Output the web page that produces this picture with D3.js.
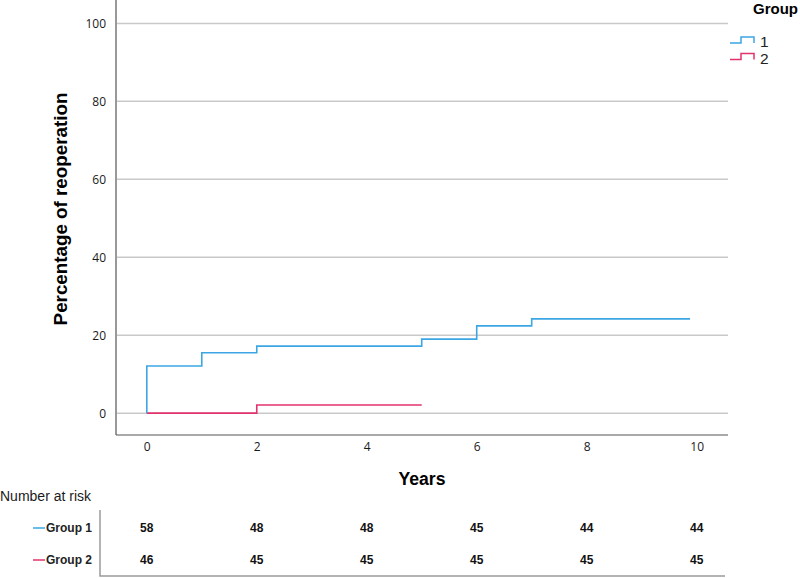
<!DOCTYPE html>
<html>
  <head>
    <meta charset="utf-8">
    <title>Reoperation by group</title>
    <script src="https://cdn.jsdelivr.net/npm/d3@7"></script>
    <style>
      body { margin: 0; background: #fff; }
      svg { font-family: "Liberation Sans", Arial, sans-serif; }
      .grid line { stroke: #c9c9c9; stroke-width: 1.5; }
      .axis text { font-family: "Open Sans", "Liberation Sans", sans-serif; font-size: 12px; fill: #1a1a1a; }
      .bold { font-weight: bold; }
    </style>
  </head>
  <body>
    <svg id="chart" width="800" height="578"></svg>

    <script>
      // data
      groups = ["1", "2"];
      colours = ["#3ba6e3", "#e3336c"];
      group1Times = [0, 0, 1, 2, 5, 6, 7, 9.88];
      group1Values = [0, 12.1, 15.5, 17.2, 19.0, 22.4, 24.2, 24.2];
      group2Times = [0, 2, 5];
      group2Values = [0, 2.1, 2.1];
      yTicks = [0, 20, 40, 60, 80, 100];
      xTicks = [0, 2, 4, 6, 8, 10];
      riskTimes = [0, 2, 4, 6, 8, 10];
      group1Risk = [58, 48, 48, 45, 44, 44];
      group2Risk = [46, 45, 45, 45, 45, 45];

      svg = d3.select("#chart");

      x = d3.scaleLinear().domain([-0.56, 10.57]).range([116, 728]);
      y = d3.scaleLinear().domain([-5.6, 106]).range([435, 0]);

      // gridlines
      svg.append("g")
        .attr("class", "grid")
        .selectAll("line")
          .data(yTicks)
        .enter().append("line")
          .attr("x1", x.range()[0] + 1)
          .attr("x2", x.range()[1])
          .attr("y1", function(d) { return y(d); })
          .attr("y2", function(d) { return y(d); });

      // axes
      yAxis = svg.append("g")
        .attr("class", "axis")
        .attr("transform", "translate(" + x.range()[0] + ",0)")
        .call(d3.axisLeft(y).tickValues(yTicks).tickSize(0).tickPadding(10));
      yAxis.select(".domain").remove();

      xAxis = svg.append("g")
        .attr("class", "axis")
        .attr("transform", "translate(0," + y.range()[0] + ")")
        .call(d3.axisBottom(x).tickValues(xTicks).tickSize(0).tickPadding(7));
      xAxis.select(".domain").remove();

      svg.append("line")
        .attr("x1", x.range()[0]).attr("x2", x.range()[0])
        .attr("y1", 0).attr("y2", y.range()[0])
        .attr("stroke", "#555").attr("stroke-width", 1.2);
      svg.append("line")
        .attr("x1", x.range()[0]).attr("x2", x.range()[1])
        .attr("y1", y.range()[0]).attr("y2", y.range()[0])
        .attr("stroke", "#555").attr("stroke-width", 1.2);

      // step curves
      series = [
        group1Times.map(function(t, i) { return [t, group1Values[i]]; }),
        group2Times.map(function(t, i) { return [t, group2Values[i]]; })
      ];
      stepLine = d3.line()
        .x(function(d) { return x(d[0]); })
        .y(function(d) { return y(d[1]); })
        .curve(d3.curveStepAfter);

      svg.selectAll(".curve")
          .data(series.slice().reverse())
        .enter().append("path")
          .attr("class", "curve")
          .attr("d", stepLine)
          .attr("fill", "none")
          .attr("stroke-width", 1.6)
          .attr("stroke", function(d, i) { return colours[series.length - 1 - i]; });

      // axis titles
      svg.append("text")
        .attr("class", "bold")
        .attr("transform", "translate(67,209) rotate(-90)")
        .attr("text-anchor", "middle")
        .attr("font-size", 18.8)
        .text("Percentage of reoperation");
      svg.append("text")
        .attr("class", "bold")
        .attr("x", (x.range()[0] + x.range()[1]) / 2)
        .attr("y", 485)
        .attr("text-anchor", "middle")
        .attr("font-size", 17.6)
        .text("Years");

      // legend
      svg.append("text")
        .attr("class", "bold")
        .attr("x", 753).attr("y", 14)
        .attr("font-size", 15)
        .text("Group");
      legend = svg.selectAll(".legendItem")
          .data(groups)
        .enter().append("g")
          .attr("class", "legendItem")
          .attr("transform", function(d, i) { return "translate(730," + (37 + i * 16.5) + ")"; });
      legend.append("path")
        .attr("d", "M0,6 H11 V0 H24 V6")
        .attr("fill", "none")
        .attr("stroke-width", 1.5)
        .attr("stroke", function(d, i) { return colours[i]; });
      legend.append("text")
        .attr("x", 30).attr("y", 10)
        .attr("font-size", 15.5)
        .attr("fill", "#222")
        .text(function(d) { return d; });

      // number at risk table
      svg.append("text")
        .attr("x", 0).attr("y", 501)
        .attr("font-size", 14)
        .attr("fill", "#1a1a1a")
        .text("Number at risk");

      svg.append("path")
        .attr("d", "M100,510 V576 H725")
        .attr("fill", "none")
        .attr("stroke", "#9a9a9a")
        .attr("stroke-width", 1.5);

      riskRows = [group1Risk, group2Risk];
      rowY = [528, 560];
      rows = svg.selectAll(".riskRow")
          .data(riskRows)
        .enter().append("g")
          .attr("class", "riskRow")
          .attr("transform", function(d, i) { return "translate(0," + rowY[i] + ")"; });
      rows.append("line")
        .attr("x1", 33).attr("x2", 45)
        .attr("stroke-width", 1.5)
        .attr("stroke", function(d, i) { return colours[i]; });
      rows.append("text")
        .attr("class", "bold")
        .attr("x", 92).attr("dy", "0.35em")
        .attr("text-anchor", "end")
        .attr("font-size", 12)
        .attr("fill", "#222")
        .text(function(d, i) { return "Group " + groups[i]; });
      rows.selectAll(".risk")
          .data(function(d) { return d; })
        .enter().append("text")
          .attr("class", "risk bold")
          .attr("x", function(d, i) { return x(riskTimes[i]); })
          .attr("dy", "0.35em")
          .attr("text-anchor", "middle")
          .attr("font-size", 12)
          .attr("fill", "#111")
          .text(function(d) { return d; });
    </script>
  </body>
</html>
